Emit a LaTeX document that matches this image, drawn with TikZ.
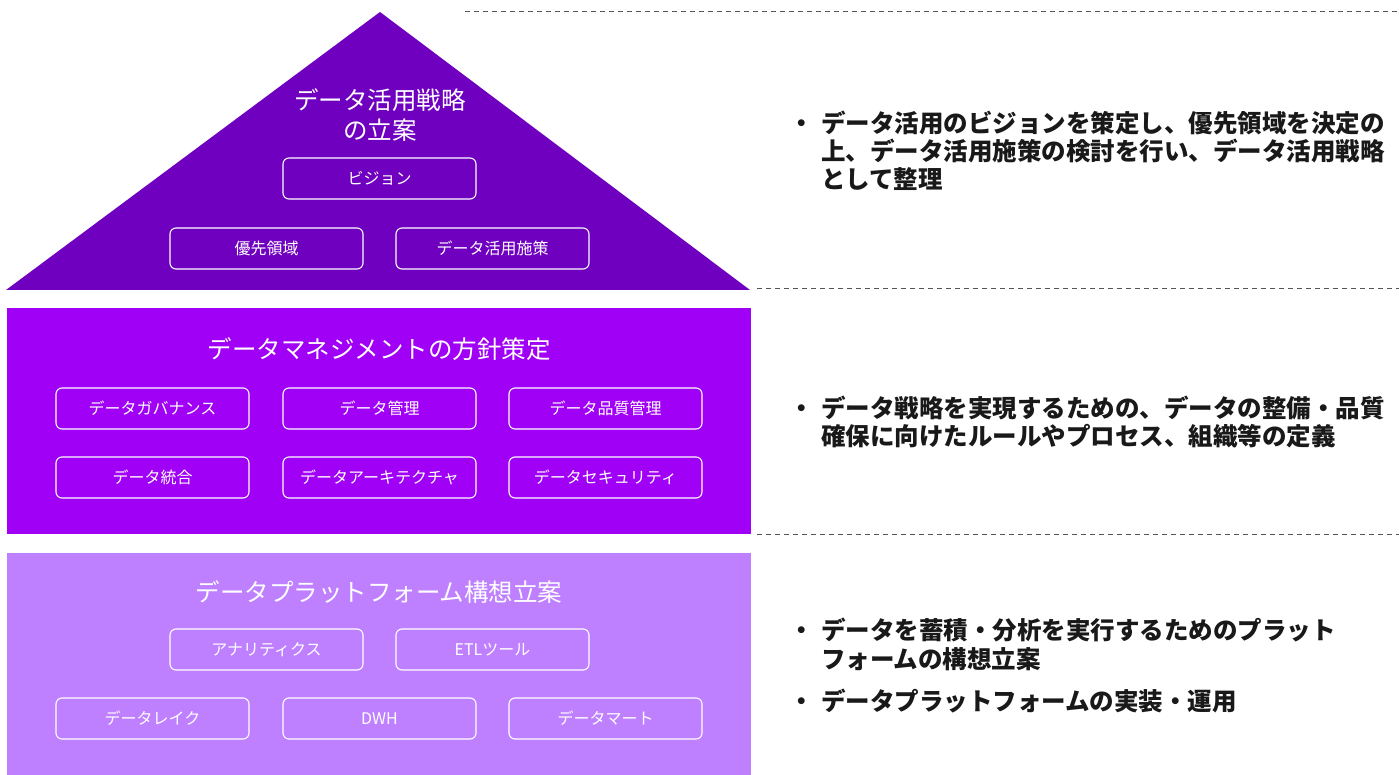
\documentclass[tikz,border=0pt]{standalone}
\usepackage{fontspec}
\setmainfont{Noto Sans CJK JP}
\newfontfamily\jp{Noto Sans CJK JP}
\definecolor{tri}{HTML}{7000C0}
\definecolor{mid}{HTML}{A000F5}
\definecolor{low}{HTML}{BF80FF}
\definecolor{dash}{HTML}{555555}
\begin{document}
\begin{tikzpicture}[x=1pt,y=-1pt,
  item/.style={draw=white,line width=1.1pt,rounded corners=6pt,minimum width=193pt,minimum height=41pt,inner sep=0pt,text=white,font=\jp\fontsize{16}{18}\selectfont},
  title/.style={text=white,inner sep=0pt,font=\jp\fontsize{24.5}{30}\selectfont},
  rtext/.style={anchor=base west,inner sep=0pt,font=\jp\bfseries\fontsize{24.5}{28}\selectfont,text=black!90},
  sep/.style={draw=dash,line width=1pt,dash pattern=on 5pt off 4pt}]
\useasboundingbox (0,0) rectangle (1399,775);
% layers
\fill[tri] (380,12) -- (750,290) -- (6,290) -- cycle;
\fill[mid] (7,308) rectangle (751,534);
\fill[low] (7,553) rectangle (751,775);
% separators
\coordinate (d1a) at (465,12); \coordinate (d1b) at (1399,12);
\coordinate (d2a) at (757,289); \coordinate (d2b) at (1399,289);
\coordinate (d3a) at (757,534); \coordinate (d3b) at (1399,534);
\draw[sep] (d1a) -- (d1b);
\draw[sep] (d2a) -- (d2b);
\draw[sep] (d3a) -- (d3b);
% top
\node[title] (t1a) at (380,100) {データ活用戦略};
\node[title] (t1b) at (380,130) {の立案};
\node[item] (vis) at (379.5,178.5) {ビジョン};
\node[item] (pri) at (266.5,248.5) {優先領域};
\node[item] (mea) at (492.5,248.5) {データ活用施策};
% middle
\node[title] (t2) at (379,349) {データマネジメントの方針策定};
\node[item] (m1) at (152.5,408.5) {データガバナンス};
\node[item] (m2) at (379.5,408.5) {データ管理};
\node[item] (m3) at (605.5,408.5) {データ品質管理};
\node[item] (m4) at (152.5,477.5) {データ統合};
\node[item] (m5) at (379.5,477.5) {データアーキテクチャ};
\node[item] (m6) at (605.5,477.5) {データセキュリティ};
% bottom
\node[title] (t3) at (379,592) {データプラットフォーム構想立案};
\node[item] (b1) at (266.5,649.5) {アナリティクス};
\node[item] (b2) at (492.5,649.5) {ETLツール};
\node[item] (b3) at (152.5,718.5) {データレイク};
\node[item] (b4) at (379.5,718.5) {DWH};
\node[item] (b5) at (605.5,718.5) {データマート};
% right text
\node[rtext] (k1) at (789,133) {・};
\node[rtext] (r1a) at (821,133) {データ活用のビジョンを策定し、優先領域を決定の};
\node[rtext] (r1b) at (821,161) {上、データ活用施策の検討を行い、データ活用戦略};
\node[rtext] (r1c) at (821,189) {として整理};
\node[rtext] (k2) at (789,417) {・};
\node[rtext] (r2a) at (821,417) {データ戦略を実現するための、データの整備・品質};
\node[rtext] (r2b) at (821,445) {確保に向けたルールやプロセス、組織等の定義};
\node[rtext] (k3) at (789,639) {・};
\node[rtext] (r3a) at (821,639) {データを蓄積・分析を実行するためのプラット};
\node[rtext] (r3b) at (821,668) {フォームの構想立案};
\node[rtext] (k4) at (789,710) {・};
\node[rtext] (r4a) at (821,710) {データプラットフォームの実装・運用};
\end{tikzpicture}
\end{document}
